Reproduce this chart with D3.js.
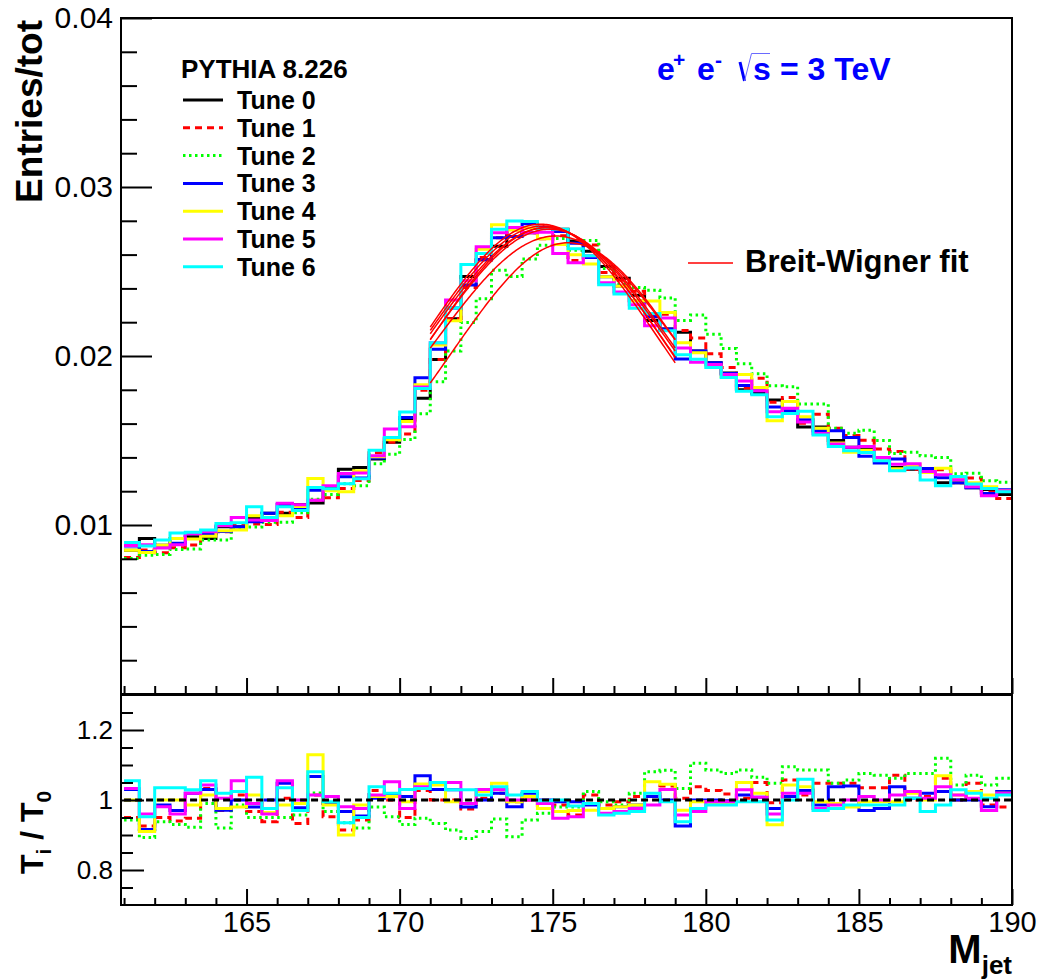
<!DOCTYPE html>
<html>
<head>
<meta charset="utf-8">
<script src="https://cdn.jsdelivr.net/npm/d3@7"></script>
<style>
  body { margin: 0; background: #fff; }
  text { font-family: "Liberation Sans", Arial, Helvetica, sans-serif; }
</style>
</head>
<body>
<div id="chart"></div>
<script>
// bins: 0.5 GeV wide, from 161 to 190
const binLow = d3.range(58).map((i) => 161 + 0.5 * i);
const binHigh = 190;

// Tune 0 (reference), entries/tot per bin
const tune0 = [
  0.0085, 0.0092, 0.0088, 0.0092, 0.0093, 0.0092, 0.0099, 0.0099, 0.0104, 0.0107,
  0.0107, 0.0112, 0.0113, 0.0122, 0.0133, 0.0134, 0.0139, 0.0149, 0.0162, 0.0175,
  0.0198, 0.0222, 0.0247, 0.0257, 0.0265, 0.0276, 0.0273, 0.0276, 0.0275, 0.0268,
  0.0262, 0.0253, 0.0246, 0.0236, 0.0221, 0.0216, 0.0214, 0.0203, 0.0196, 0.0190,
  0.0180, 0.0178, 0.0174, 0.0166, 0.0158, 0.0158, 0.0150, 0.0146, 0.0145, 0.0140,
  0.0134, 0.0133, 0.0131, 0.0125, 0.0125, 0.0122, 0.0121, 0.0118
];

// ratios T_i / T_0 read from the lower pad
const ratio1 = [
  0.950, 0.926, 0.950, 0.940, 0.948, 1.033, 0.970, 1.014, 0.967, 0.938,
  1.005, 0.933, 1.014, 0.952, 0.914, 0.943, 1.027, 1.000, 0.950, 1.027,
  1.000, 1.000, 0.974, 1.005, 1.019, 0.995, 1.000, 0.976, 0.986, 0.957,
  1.014, 0.986, 0.995, 1.010, 1.010, 1.040, 1.005, 1.038, 1.027, 1.017,
  1.005, 1.050, 0.992, 1.057, 1.014, 1.048, 1.048, 1.048, 1.035, 1.035,
  1.071, 1.000, 1.010, 1.062, 1.000, 1.048, 0.986, 0.980
];
const ratio2 = [
  0.943, 0.893, 0.938, 0.930, 0.922, 0.990, 0.920, 0.986, 0.950, 0.950,
  0.950, 0.957, 1.020, 0.967, 0.935, 0.920, 0.980, 0.952, 0.930, 0.948,
  0.933, 0.914, 0.890, 0.910, 0.946, 0.895, 0.943, 0.962, 0.980, 0.980,
  1.024, 0.995, 0.986, 1.019, 1.081, 1.085, 1.033, 1.105, 1.086, 1.076,
  1.086, 1.065, 1.048, 1.095, 1.086, 1.086, 1.048, 1.057, 1.076, 1.071,
  1.062, 1.076, 1.076, 1.119, 1.043, 1.071, 1.043, 1.062
];
const ratio3 = [
  1.030, 0.916, 0.986, 0.970, 1.019, 1.030, 0.971, 1.000, 0.980, 1.000,
  1.048, 0.978, 1.067, 0.990, 0.967, 0.954, 1.005, 1.014, 1.010, 1.069,
  1.030, 1.029, 0.980, 1.000, 1.019, 0.981, 1.019, 1.000, 0.995, 0.995,
  0.986, 0.976, 0.981, 0.986, 1.010, 1.000, 0.926, 1.000, 1.000, 0.998,
  1.014, 1.008, 0.976, 1.010, 1.027, 0.986, 1.038, 1.040, 0.970, 0.976,
  1.038, 1.005, 1.019, 1.024, 1.000, 1.000, 0.981, 1.024
];
const ratio4 = [
  1.000, 0.910, 1.000, 1.000, 0.986, 1.014, 0.976, 0.980, 1.014, 0.964,
  0.986, 0.990, 1.129, 0.986, 0.900, 0.986, 1.010, 1.010, 0.995, 1.046,
  1.043, 0.995, 0.990, 1.024, 1.048, 0.995, 1.010, 0.976, 0.967, 0.970,
  0.971, 0.976, 0.981, 0.986, 1.052, 1.045, 0.971, 0.995, 0.990, 0.989,
  1.050, 1.019, 0.929, 1.043, 1.038, 0.995, 0.990, 0.980, 0.995, 0.995,
  0.995, 1.019, 1.000, 1.069, 1.014, 1.024, 1.014, 1.019
];
const ratio5 = [
  1.033, 0.960, 0.981, 0.960, 1.019, 1.043, 1.005, 1.055, 0.990, 0.960,
  1.055, 1.000, 1.014, 1.010, 0.981, 0.976, 1.014, 1.052, 0.976, 1.038,
  1.050, 1.050, 0.990, 1.030, 1.030, 1.000, 1.000, 0.990, 0.948, 0.952,
  0.990, 0.962, 0.967, 0.976, 0.986, 1.030, 0.957, 0.967, 0.995, 0.995,
  1.029, 1.008, 0.960, 1.019, 1.019, 0.976, 0.986, 1.000, 1.010, 1.000,
  1.014, 1.024, 1.005, 1.038, 1.014, 1.005, 0.970, 1.019
];
const ratio6 = [
  1.055, 0.952, 1.035, 1.035, 1.029, 1.055, 1.019, 1.024, 1.065, 0.976,
  1.035, 0.970, 1.081, 0.995, 0.935, 0.950, 1.038, 1.019, 1.030, 1.033,
  1.050, 1.029, 1.029, 1.014, 1.038, 1.014, 1.024, 0.998, 1.000, 0.983,
  0.990, 0.957, 0.962, 0.967, 1.019, 0.995, 0.938, 0.976, 0.986, 0.986,
  0.995, 0.995, 0.943, 1.000, 1.059, 0.970, 0.976, 0.986, 0.986, 0.986,
  0.986, 1.005, 0.967, 0.986, 1.029, 1.019, 1.005, 1.014
];
const ratios = [null, ratio1, ratio2, ratio3, ratio4, ratio5, ratio6];

// Breit-Wigner fit parameters per tune
const fitMass = [174.9, 175.1, 175.5, 174.8, 174.8, 174.7, 174.6];
const fitWidth = [14.0, 14.4, 13.4, 14.0, 13.5, 13.8, 13.6];
const fitPeak = [0.0275, 0.0271, 0.0267, 0.0276, 0.0276, 0.0277, 0.0278];
const fitRange = [171, 179];

const tuneNames = ["Tune 0", "Tune 1", "Tune 2", "Tune 3", "Tune 4", "Tune 5", "Tune 6"];
const tuneColors = ["#000000", "#ff0000", "#00ff00", "#0000ff", "#ffff00", "#ff00ff", "#00ffff"];
const tuneDash = [null, "7,5", "2.5,3.5", null, null, null, null];

const topTicks = [0.01, 0.02, 0.03, 0.04];
const ratioTicks = [0.8, 1, 1.2];
const massTicks = [165, 170, 175, 180, 185, 190];

const W = 1038, H = 979;
const left = 121, right = 1012;
const topPad = { top: 18, bottom: 694 };
const botPad = { top: 695, bottom: 905 };

const svg = d3.select("#chart").append("svg")
  .attr("width", W).attr("height", H)
  .style("display", "block");
svg.append("rect").attr("width", W).attr("height", H).attr("fill", "#fff");

const x = d3.scaleLinear().domain([160.9, 190]).range([left, right]);
const y = d3.scaleLinear().domain([0, 0.04]).range([topPad.bottom, topPad.top]);
const yr = d3.scaleLinear().domain([0.7, 1.3]).range([botPad.bottom, botPad.top]);

const defs = svg.append("defs");
defs.append("clipPath").attr("id", "clipTop").append("rect")
  .attr("x", left).attr("y", topPad.top).attr("width", right - left).attr("height", topPad.bottom - topPad.top);
defs.append("clipPath").attr("id", "clipBot").append("rect")
  .attr("x", left).attr("y", botPad.top).attr("width", right - left).attr("height", botPad.bottom - botPad.top);

// step line helper: one point per bin low edge, closing at the last edge
function stepPoints(values) {
  const pts = binLow.map((b, i) => [b, values[i]]);
  pts.push([binHigh, values[values.length - 1]]);
  return pts;
}

const topLine = d3.line().x((d) => x(d[0])).y((d) => y(d[1])).curve(d3.curveStepAfter);
const botLine = d3.line().x((d) => x(d[0])).y((d) => yr(d[1])).curve(d3.curveStepAfter);

// build the tune histograms from the reference and the ratios
const tuneValues = tuneNames.map((n, t) =>
  t === 0 ? tune0 : tune0.map((v, i) => v * ratios[t][i])
);

// ---- top pad histograms
const gTop = svg.append("g").attr("clip-path", "url(#clipTop)");
tuneValues.forEach((vals, t) => {
  gTop.append("path")
    .attr("d", topLine(stepPoints(vals)))
    .attr("fill", "none")
    .attr("stroke", tuneColors[t])
    .attr("stroke-width", 3)
    .attr("stroke-dasharray", tuneDash[t]);
});

// Breit-Wigner fits
function breitWigner(m, t) {
  const g = fitWidth[t] / 2;
  return fitPeak[t] * g * g / ((m - fitMass[t]) ** 2 + g * g);
}
const fitLine = d3.line().x((d) => x(d[0])).y((d) => y(d[1]));
tuneNames.forEach((n, t) => {
  const pts = d3.range(fitRange[0], fitRange[1] + 0.001, 0.05).map((m) => [m, breitWigner(m, t)]);
  gTop.append("path")
    .attr("d", fitLine(pts))
    .attr("fill", "none")
    .attr("stroke", "#ff0000")
    .attr("stroke-width", 1.5);
});

// ---- bottom pad ratios
const gBot = svg.append("g").attr("clip-path", "url(#clipBot)");
for (let t = 1; t < 7; t++) {
  gBot.append("path")
    .attr("d", botLine(stepPoints(ratios[t])))
    .attr("fill", "none")
    .attr("stroke", tuneColors[t])
    .attr("stroke-width", 3)
    .attr("stroke-dasharray", tuneDash[t]);
}
gBot.append("line")
  .attr("x1", x(161)).attr("x2", x(190))
  .attr("y1", yr(1)).attr("y2", yr(1))
  .attr("stroke", "#000").attr("stroke-width", 3)
  .attr("stroke-dasharray", "7,4");

// ---- axes
function styleAxis(g, size) {
  g.select(".domain").remove();
  g.selectAll(".tick line").attr("stroke", "#000").attr("stroke-width", 2);
  g.selectAll("text").attr("font-size", size).attr("fill", "#000")
    .attr("font-family", '"Liberation Sans", Arial, sans-serif');
}

const minorTop = d3.range(0.002, 0.04, 0.002).filter((v) => Math.abs(v * 100 - Math.round(v * 100)) > 1e-6);
svg.append("g").attr("transform", `translate(${left},0)`)
  .call(d3.axisLeft(y).tickValues(minorTop).tickSize(-16).tickFormat(""))
  .call((g) => styleAxis(g, 30));
svg.append("g").attr("transform", `translate(${left},0)`)
  .call(d3.axisLeft(y).tickValues(topTicks).tickSize(-31).tickPadding(8).tickFormat(d3.format(".2f")))
  .call((g) => styleAxis(g, 30));

const minorRatio = d3.range(0.75, 1.3, 0.05).filter((v) => !ratioTicks.some((r) => Math.abs(r - v) < 1e-6));
svg.append("g").attr("transform", `translate(${left},0)`)
  .call(d3.axisLeft(yr).tickValues(minorRatio).tickSize(-12).tickFormat(""))
  .call((g) => styleAxis(g, 26));
svg.append("g").attr("transform", `translate(${left},0)`)
  .call(d3.axisLeft(yr).tickValues(ratioTicks).tickSize(-23).tickPadding(8).tickFormat((d) => d3.format("")(d)))
  .call((g) => styleAxis(g, 26));

const minorMass = d3.range(161, 190, 1).filter((v) => v % 5 !== 0);
[topPad.bottom, botPad.bottom].forEach((yy, i) => {
  svg.append("g").attr("transform", `translate(0,${yy})`)
    .call(d3.axisBottom(x).tickValues(minorMass).tickSize(i === 0 ? -8 : -7).tickFormat(""))
    .call((g) => styleAxis(g, 29));
  svg.append("g").attr("transform", `translate(0,${yy})`)
    .call(d3.axisBottom(x).tickValues(massTicks).tickSize(-16).tickPadding(6)
      .tickFormat(i === 0 ? "" : d3.format("d")))
    .call((g) => styleAxis(g, 29));
});

// frames
[topPad, botPad].forEach((p) => {
  svg.append("rect")
    .attr("x", left).attr("y", p.top)
    .attr("width", right - left).attr("height", p.bottom - p.top)
    .attr("fill", "none").attr("stroke", "#000").attr("stroke-width", 2);
});

// ---- axis titles
svg.append("text")
  .attr("transform", "translate(42,20) rotate(-90)")
  .attr("text-anchor", "end")
  .attr("font-size", 37).attr("font-weight", "bold")
  .text("Entries/tot");

const ratioTitle = svg.append("text")
  .attr("transform", "translate(43,874) rotate(-90)")
  .attr("font-size", 32).attr("font-weight", "bold");
ratioTitle.append("tspan").text("T");
ratioTitle.append("tspan").attr("font-size", 21).attr("dy", 8).text("i");
ratioTitle.append("tspan").attr("dy", -8).text(" / T");
ratioTitle.append("tspan").attr("font-size", 21).attr("dy", 8).text("0");

const massTitle = svg.append("text")
  .attr("x", right).attr("y", 963)
  .attr("text-anchor", "end")
  .attr("font-size", 40).attr("font-weight", "bold");
massTitle.append("tspan").text("M");
massTitle.append("tspan").attr("font-size", 26).attr("dy", 11).text("jet");

// ---- legend
svg.append("text")
  .attr("x", 181).attr("y", 78)
  .attr("font-size", 26).attr("font-weight", "bold")
  .text("PYTHIA 8.226");

const legendY = [100, 127.8, 155.6, 183.4, 211.2, 239, 266.8];
tuneNames.forEach((n, t) => {
  svg.append("line")
    .attr("x1", 183).attr("x2", 223)
    .attr("y1", legendY[t]).attr("y2", legendY[t])
    .attr("stroke", tuneColors[t]).attr("stroke-width", 3)
    .attr("stroke-dasharray", tuneDash[t]);
  svg.append("text")
    .attr("x", 237).attr("y", legendY[t] + 9)
    .attr("font-size", 25).attr("font-weight", "bold")
    .text(n);
});

svg.append("line")
  .attr("x1", 688).attr("x2", 733).attr("y1", 263).attr("y2", 263)
  .attr("stroke", "#ff0000").attr("stroke-width", 1.5);
svg.append("text")
  .attr("x", 745).attr("y", 272)
  .attr("font-size", 31).attr("font-weight", "bold")
  .text("Breit-Wigner fit");

// ---- e+ e- sqrt(s) label
const blue = "#0000ff";
const lab = svg.append("g").attr("fill", blue).attr("font-weight", "bold");
lab.append("text").attr("x", 657).attr("y", 80).attr("font-size", 32).text("e");
lab.append("text").attr("x", 673).attr("y", 67).attr("font-size", 21).text("+");
lab.append("text").attr("x", 697).attr("y", 80).attr("font-size", 32).text("e");
lab.append("text").attr("x", 715).attr("y", 67).attr("font-size", 21).text("-");
svg.append("path")
  .attr("d", "M740,62 L744.5,81")
  .attr("stroke", blue).attr("stroke-width", 3).attr("fill", "none");
svg.append("path")
  .attr("d", "M744.5,81 L751.5,53.5 L770,53.5")
  .attr("stroke", "#6a6aff").attr("stroke-width", 1).attr("fill", "none");
lab.append("text").attr("x", 753).attr("y", 80).attr("font-size", 32).text("s");
lab.append("text").attr("x", 780).attr("y", 80).attr("font-size", 32).text("= 3 TeV");
</script>
</body>
</html>
